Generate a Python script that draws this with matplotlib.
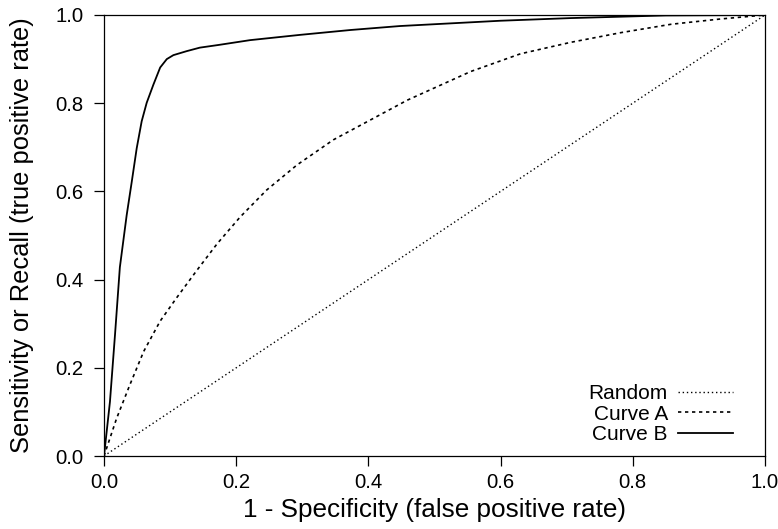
import matplotlib
matplotlib.use("Agg")
import matplotlib.pyplot as plt

plt.rcParams["font.family"] = ["Liberation Sans", "DejaVu Sans"]

# values
random_fpr = [0.0, 1.0]
random_tpr = [0.0, 1.0]

curve_a_fpr = [0.0, 0.019, 0.039, 0.060, 0.085, 0.110, 0.140, 0.171, 0.206,
               0.246, 0.292, 0.347, 0.408, 0.459, 0.555, 0.630, 0.706, 0.782,
               0.858, 0.933, 1.0]
curve_a_tpr = [0.0, 0.085, 0.161, 0.237, 0.306, 0.359, 0.420, 0.481, 0.542,
               0.603, 0.660, 0.717, 0.766, 0.807, 0.872, 0.912, 0.938, 0.960,
               0.979, 0.991, 1.0]

curve_b_fpr = [0.0, 0.009, 0.0167, 0.024, 0.0343, 0.042, 0.0495, 0.057,
               0.0646, 0.0747, 0.085, 0.095, 0.105, 0.125, 0.145, 0.173,
               0.221, 0.297, 0.373, 0.448, 0.524, 0.600, 0.706, 0.85, 1.0]
curve_b_tpr = [0.0, 0.123, 0.276, 0.428, 0.546, 0.622, 0.698, 0.759,
               0.801, 0.842, 0.881, 0.900, 0.909, 0.918, 0.926, 0.932,
               0.943, 0.955, 0.966, 0.975, 0.981, 0.987, 0.993, 0.999, 1.0]

W, H = 778, 529
fig = plt.figure(figsize=(W / 100, H / 100), dpi=100)
ax = fig.add_axes([104 / W, 1 - 456 / H, 661 / W, 441 / H])

ax.plot(random_fpr, random_tpr, color="black", linewidth=1.0,
        linestyle=(0, (1, 2)), label="Random")
ax.plot(curve_a_fpr, curve_a_tpr, color="black", linewidth=1.2,
        linestyle=(0, (2, 2.2)), label="Curve A")
ax.plot(curve_b_fpr, curve_b_tpr, color="black", linewidth=1.3,
        linestyle="-", label="Curve B")

ax.set_xlim(0, 1)
ax.set_ylim(0, 1)
ticks = [0.0, 0.2, 0.4, 0.6, 0.8, 1.0]
ax.set_xticks(ticks)
ax.set_yticks(ticks)
ax.set_xticklabels([f"{t:.1f}" for t in ticks])
ax.set_yticklabels([f"{t:.1f}" for t in ticks])
ax.tick_params(direction="out", length=7.5, width=0.9, labelsize=14.6)
ax.tick_params(axis="x", pad=5)
ax.tick_params(axis="y", pad=7)
for s in ax.spines.values():
    s.set_linewidth(0.9)

ax.set_xlabel("1 - Specificity (false positive rate)", fontsize=18.8)
ax.set_ylabel("Sensitivity or Recall (true positive rate)", fontsize=18.4)
ax.xaxis.set_label_coords(0.5, -(498 - 456) / 441)
ax.yaxis.set_label_coords(-(104 - 34) / 661, 0.5)

ax.legend(loc="lower right", bbox_to_anchor=(0.9516, 0.027), frameon=False,
          fontsize=15, markerfirst=False, borderpad=0, borderaxespad=0,
          handlelength=2.65, handletextpad=0.48, labelspacing=0.07)

fig.savefig("out.png", dpi=100)
